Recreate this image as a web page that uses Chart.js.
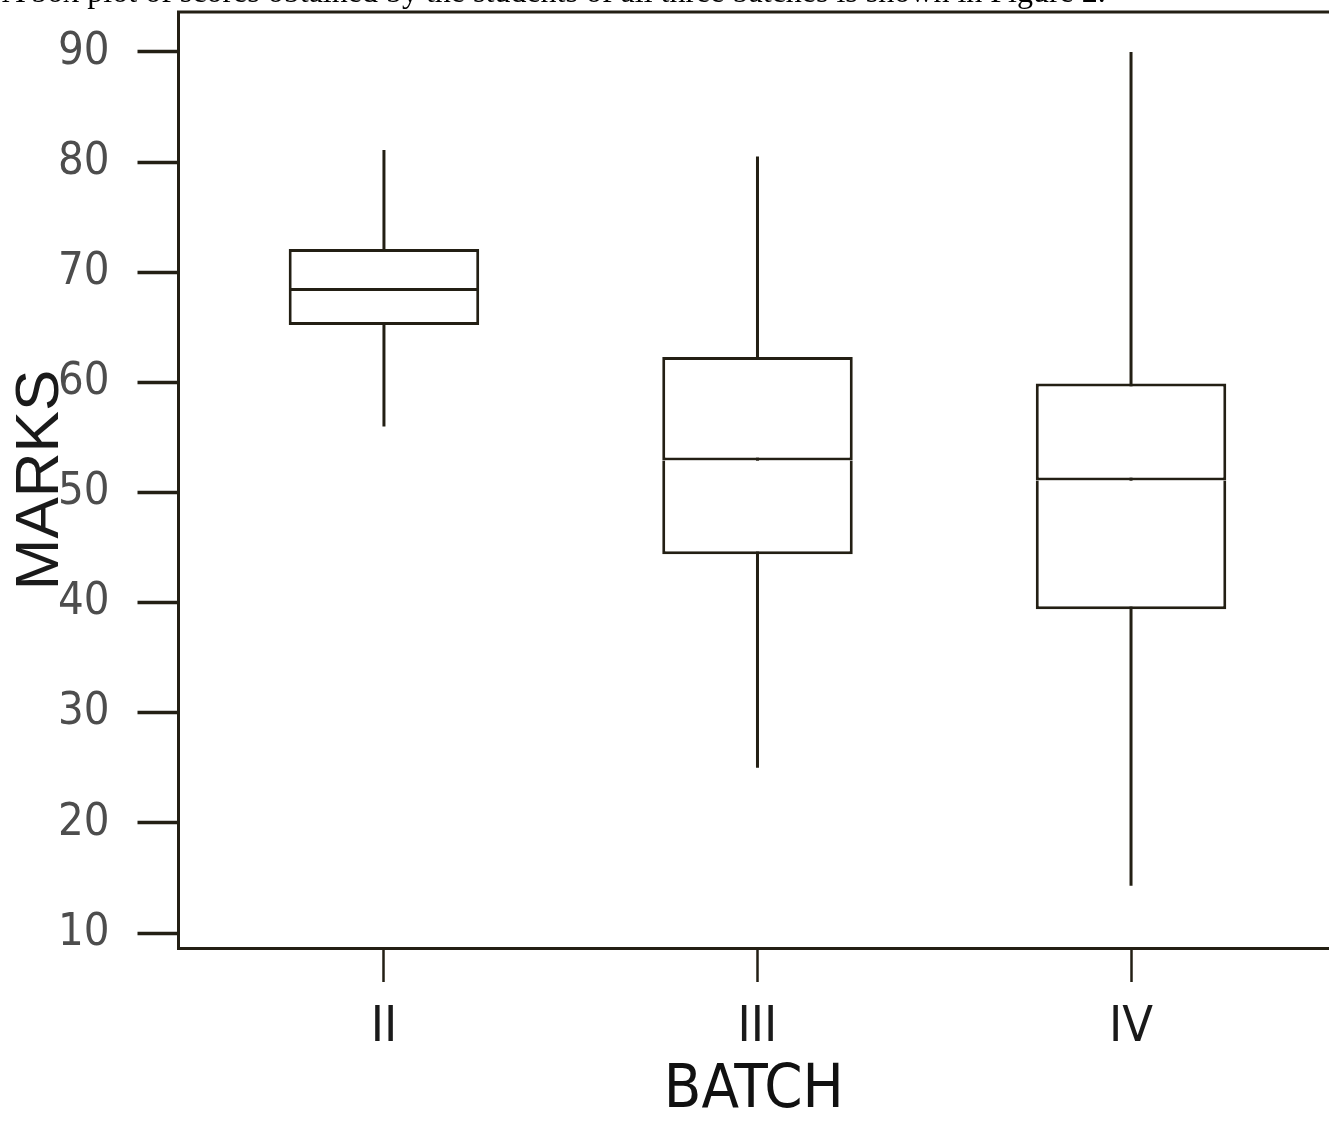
<!DOCTYPE html>
<html>
<head>
<meta charset="utf-8">
<script src="https://cdn.jsdelivr.net/npm/chart.js@4.4.0/dist/chart.umd.min.js"></script>
<style>
  html, body { margin: 0; padding: 0; background: #ffffff; overflow: hidden; }
  #wrap { position: relative; width: 1329px; height: 1130px; overflow: hidden; }
  #caption {
    position: absolute; left: 2px; top: -27px;
    font-family: "Liberation Serif", "Times New Roman", serif;
    font-size: 32px; color: #000; white-space: nowrap;
  }
  /* 캔버스를 위로 올려서 플롯 상단을 그림 위쪽에 맞춤 */
  canvas { position: absolute; left: 0; top: -43px; }
</style>
</head>
<body>
<div id="wrap">
  <canvas id="boxChart" width="1329" height="1173"></canvas>
  <div id="caption">A box plot of scores obtained by the students of all three batches is shown in Figure 2.</div>
</div>
<script>
// 배치별 점수
const batchLabels = ["II", "III", "IV"];
const batchPos = [2, 3, 4];
const minMarks = [56, 25, 14.3];
const q1Marks = [65.2, 44.4, 39.4];
const medianMarks = [68.3, 52.9, 51.1];
const q3Marks = [72.1, 62.3, 59.9];
const maxMarks = [81.1, 80.5, 90];
const yTicks = [10, 20, 30, 40, 50, 60, 70, 80, 90];

const ink = "#231f14";
const narrow = "'DejaVu Sans Condensed', 'Liberation Sans Narrow', 'Liberation Sans', Arial";

// 수염: 최소 ~ 최대 한 줄 (박스가 위에 덮음)
const whiskerSets = batchPos.map((x, i) => ({
  type: "line",
  data: [{ x, y: minMarks[i] }, { x, y: maxMarks[i] }],
  borderColor: ink,
  borderWidth: 3,
  pointRadius: 0,
  order: 2
}));

function boxSet(lows, highs, skip) {
  return {
    type: "bar",
    data: batchPos.map((x, i) => ({ x, y: [lows[i], highs[i]] })),
    backgroundColor: "#ffffff",
    borderColor: ink,
    borderWidth: 3,
    borderSkipped: skip,
    grouped: false,
    barPercentage: 0.51,
    categoryPercentage: 1,
    order: 1
  };
}

// 위쪽 테두리선
const topBorder = {
  id: "topBorder",
  afterDraw(chart) {
    const { ctx, chartArea } = chart;
    ctx.save();
    ctx.strokeStyle = ink;
    ctx.lineWidth = 3;
    ctx.beginPath();
    ctx.moveTo(chartArea.left - 1.5, chartArea.top);
    ctx.lineTo(chartArea.right, chartArea.top);
    ctx.stroke();
    ctx.restore();
  }
};

const ctx = document.getElementById("boxChart").getContext("2d");

new Chart(ctx, {
  type: "bar",
  data: {
    datasets: [
      ...whiskerSets,
      boxSet(q1Marks, medianMarks, "top"),
      boxSet(medianMarks, q3Marks, false)
    ]
  },
  plugins: [topBorder],
  options: {
    responsive: false,
    animation: false,
    layout: {
      autoPadding: false,
      padding: { top: 0, right: 0, bottom: 8, left: 10 }
    },
    plugins: {
      legend: { display: false },
      tooltip: { enabled: false }
    },
    scales: {
      x: {
        type: "linear",
        offset: false,
        min: 1.45,
        max: 4.53,
        afterBuildTicks: (scale) => {
          scale.ticks = batchPos.map((v) => ({ value: v }));
        },
        ticks: {
          callback: (value, index) => batchLabels[index],
          color: "#1a1a1a",
          font: { family: narrow, size: 50, lineHeight: 1 },
          padding: 21,
          maxRotation: 0,
          autoSkip: false
        },
        grid: {
          offset: false,
          drawOnChartArea: false,
          drawTicks: true,
          tickLength: 34,
          tickWidth: 2.5,
          tickColor: ink
        },
        border: { display: true, color: ink, width: 3 },
        title: {
          display: true,
          text: "BATCH",
          color: "#111111",
          font: { family: narrow, size: 61, lineHeight: 1 },
          padding: { top: -13, bottom: 0 }
        }
      },
      y: {
        min: 8.64,
        max: 93.63,
        afterBuildTicks: (scale) => {
          scale.ticks = yTicks.map((v) => ({ value: v }));
        },
        ticks: {
          color: "#4d4d4d",
          font: { family: narrow, size: 45 },
          padding: 28
        },
        grid: {
          drawOnChartArea: false,
          drawTicks: true,
          tickLength: 41,
          tickWidth: 3.5,
          tickColor: ink
        },
        border: { display: true, color: ink, width: 3 },
        title: {
          display: true,
          text: "MARKS",
          color: "#1a1a1a",
          font: { family: "'Liberation Sans', Arial", size: 62, lineHeight: 1 },
          padding: { top: 0, bottom: -42 }
        }
      }
    }
  }
});
</script>
</body>
</html>
